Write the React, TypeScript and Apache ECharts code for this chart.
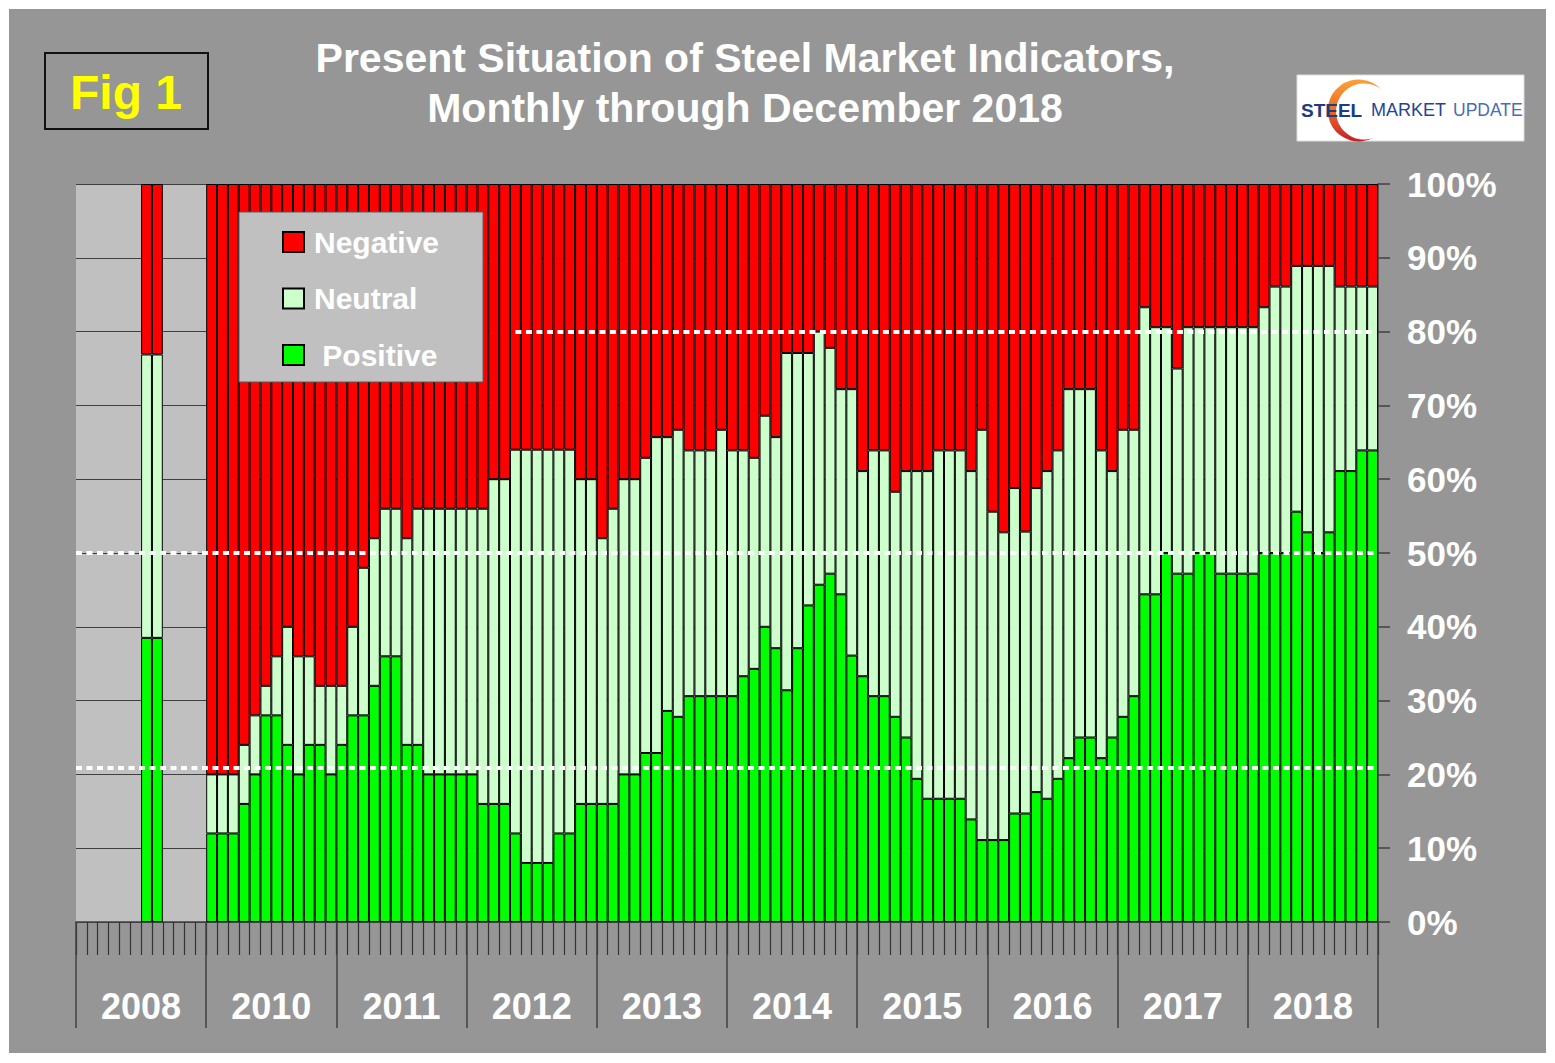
import React, { useEffect, useRef } from "react";
import * as echarts from "echarts";

// ---------- data ----------
const years = ["2008", "2010", "2011", "2012", "2013", "2014", "2015", "2016", "2017", "2018"];
const monthCodes = ["01", "02", "03", "04", "05", "06", "07", "08", "09", "10", "11", "12"];
const categories = years.flatMap((y) => monthCodes.map((m) => `${y}-${m}`));

const N = null;
// percentage of indicators, one value per month slot (2008 has only two filled slots)
const positive = [
  N, N, N, N, N, N, 38.5, 38.5, N, N, N, N,
  12, 12, 12, 16, 20, 28, 28, 24, 20, 24, 24, 20,
  24, 28, 28, 32, 36, 36, 24, 24, 20, 20, 20, 20,
  20, 16, 16, 16, 12, 8, 8, 8, 12, 12, 16, 16,
  16, 16, 20, 20, 22.9, 22.9, 28.6, 27.8, 30.6, 30.6, 30.6, 30.6,
  30.6, 33.3, 34.3, 40.0, 37.1, 31.4, 37.1, 42.9, 45.7, 47.2, 44.4, 36.1,
  33.3, 30.6, 30.6, 27.8, 25.0, 19.4, 16.7, 16.7, 16.7, 16.7, 13.9, 11.1,
  11.1, 11.1, 14.7, 14.7, 17.6, 16.7, 19.4, 22.2, 25.0, 25.0, 22.2, 25.0,
  27.8, 30.6, 44.4, 44.4, 50.0, 47.2, 47.2, 50.0, 50.0, 47.2, 47.2, 47.2,
  47.2, 50.0, 50.0, 50.0, 55.6, 52.8, 50.0, 52.8, 61.1, 61.1, 63.9, 63.9,
];
const neutral = [
  N, N, N, N, N, N, 38.4, 38.4, N, N, N, N,
  8, 8, 8, 8, 8, 4, 8, 16, 16, 12, 8, 12,
  8, 12, 20, 20, 20, 20, 28, 32, 36, 36, 36, 36,
  36, 40, 44, 44, 52, 56, 56, 56, 52, 52, 44, 44,
  36, 40, 40, 40, 40, 42.8, 37.1, 38.9, 33.3, 33.3, 33.3, 36.1,
  33.3, 30.6, 28.6, 28.6, 28.6, 45.7, 40.0, 34.2, 34.3, 30.6, 27.8, 36.1,
  27.8, 33.3, 33.3, 30.5, 36.1, 41.7, 44.4, 47.2, 47.2, 47.2, 47.2, 55.6,
  44.5, 41.7, 44.1, 38.2, 41.2, 44.4, 44.5, 50.0, 47.2, 47.2, 41.7, 36.1,
  38.9, 36.1, 38.9, 36.2, 30.6, 27.8, 33.4, 30.6, 30.6, 33.4, 33.4, 33.4,
  33.4, 33.3, 36.1, 36.1, 33.3, 36.1, 38.9, 36.1, 25.0, 25.0, 22.2, 22.2,
];
const negative = [
  N, N, N, N, N, N, 23.1, 23.1, N, N, N, N,
  80, 80, 80, 76, 72, 68, 64, 60, 64, 64, 68, 68,
  68, 60, 52, 48, 44, 44, 48, 44, 44, 44, 44, 44,
  44, 44, 40, 40, 36, 36, 36, 36, 36, 36, 40, 40,
  48, 44, 40, 40, 37.1, 34.3, 34.3, 33.3, 36.1, 36.1, 36.1, 33.3,
  36.1, 36.1, 37.1, 31.4, 34.3, 22.9, 22.9, 22.9, 20.0, 22.2, 27.8, 27.8,
  38.9, 36.1, 36.1, 41.7, 38.9, 38.9, 38.9, 36.1, 36.1, 36.1, 38.9, 33.3,
  44.4, 47.2, 41.2, 47.1, 41.2, 38.9, 36.1, 27.8, 27.8, 27.8, 36.1, 38.9,
  33.3, 33.3, 16.7, 19.4, 19.4, 25.0, 19.4, 19.4, 19.4, 19.4, 19.4, 19.4,
  19.4, 16.7, 13.9, 13.9, 11.1, 11.1, 11.1, 11.1, 13.9, 13.9, 13.9, 13.9,
];

// reference levels (dotted white lines)
const fullWidthLevels = [50, 20.9];
const partialLevel = 80;
const partialLevelFrom = "2012-05";
const partialLevelTo = "2018-12";

const titleText = "Present Situation of Steel Market Indicators,\nMonthly through December 2018";

// ---------- logo shape ----------
echarts.graphic.registerShape(
  "smuCrescent",
  echarts.graphic.extendPath("M 24 -19 A 31 31 0 1 0 15 29 A 28 28 0 1 1 24 -19 Z", {})
);

const FONT = '"Liberation Sans", Arial, Helvetica, sans-serif';

export default function App() {
  const ref = useRef<HTMLDivElement>(null);

  useEffect(() => {
    if (!ref.current) return;
    const chart = echarts.init(ref.current, undefined, { renderer: "svg" });

    const barBase = {
      type: "bar",
      stack: "total",
      barCategoryGap: "0%",
      barGap: "0%",
      emphasis: { disabled: true },
      silent: true,
    };
    const dotted = { color: "#ffffff", width: 4, type: [6, 4.5] as any };

    const option: any = {
      animation: false,
      backgroundColor: "#969696",
      textStyle: { fontFamily: FONT },
      grid: {
        left: 67,
        right: 168,
        top: 175,
        bottom: 131,
        show: true,
        backgroundColor: "#c0c0c0",
        borderWidth: 0,
      },
      legend: {
        orient: "vertical",
        left: 230,
        top: 203,
        data: ["Negative", "Neutral", "Positive"],
        selectedMode: false,
        icon: "rect",
        itemWidth: 21,
        itemHeight: 20,
        itemGap: 26.5,
        padding: [15, 44, 12, 43],
        backgroundColor: "#c0c0c0",
        borderColor: "#5a5a5a",
        borderWidth: 1,
        formatter: (name: string) => (name === "Positive" ? " Positive" : name),
        textStyle: {
          color: "#ffffff",
          fontSize: 30,
          fontWeight: "bold",
          fontFamily: FONT,
          lineHeight: 30,
          padding: [0, 0, 0, 5],
        },
      },
      xAxis: [
        {
          type: "category",
          data: categories,
          position: "bottom",
          boundaryGap: true,
          axisLine: { show: true, lineStyle: { color: "#404040", width: 1.5 } },
          axisTick: { show: true, interval: 0, length: 33, lineStyle: { color: "#333333", width: 1.2 } },
          axisLabel: { show: false },
          splitLine: { show: false },
        },
        {
          type: "category",
          data: years,
          position: "bottom",
          boundaryGap: true,
          axisLine: { show: false },
          axisTick: { show: true, interval: 0, length: 106, lineStyle: { color: "#404040", width: 1.5 } },
          axisLabel: {
            show: true,
            interval: 0,
            color: "#ffffff",
            fontSize: 36,
            fontWeight: "bold",
            fontFamily: FONT,
            margin: 66,
          },
          splitLine: { show: false },
        },
      ],
      yAxis: {
        type: "value",
        position: "right",
        min: 0,
        max: 100,
        interval: 10,
        axisLine: { show: true, lineStyle: { color: "#404040", width: 1.5 } },
        axisTick: { show: true, length: 12, lineStyle: { color: "#404040", width: 1.5 } },
        axisLabel: {
          formatter: "{value}%",
          color: "#ffffff",
          fontSize: 35,
          fontWeight: "bold",
          fontFamily: FONT,
          margin: 29,
        },
        splitLine: { show: true, lineStyle: { color: "#404040", width: 1 } },
      },
      series: [
        {
          ...barBase,
          name: "Positive",
          data: positive,
          itemStyle: { color: "#00ff00", borderColor: "#000000", borderWidth: 1 },
        },
        {
          ...barBase,
          name: "Neutral",
          data: neutral,
          itemStyle: { color: "#ccffcc", borderColor: "#000000", borderWidth: 1 },
        },
        {
          ...barBase,
          name: "Negative",
          data: negative,
          itemStyle: { color: "#ff0000", borderColor: "#000000", borderWidth: 1 },
          markLine: {
            silent: true,
            symbol: ["none", "none"],
            label: { show: false },
            lineStyle: dotted,
            emphasis: { disabled: true },
            data: [
              ...fullWidthLevels.map((v) => ({ yAxis: v })),
              [
                { coord: [partialLevelFrom, partialLevel] },
                { coord: [partialLevelTo, partialLevel] },
              ],
            ],
          },
        },
      ],
      graphic: [
        {
          type: "text",
          x: 736,
          y: 74,
          style: {
            text: titleText,
            fill: "#ffffff",
            font: `bold 41px ${FONT}`,
            lineHeight: 50,
            align: "center",
            verticalAlign: "middle",
          },
        },
        {
          type: "rect",
          shape: { x: 36, y: 44, width: 163, height: 76 },
          style: { fill: "none", stroke: "#111111", lineWidth: 2 },
        },
        {
          type: "text",
          x: 117,
          y: 83,
          style: {
            text: "Fig 1",
            fill: "#ffff00",
            font: `bold 48px ${FONT}`,
            align: "center",
            verticalAlign: "middle",
          },
        },
        {
          type: "rect",
          shape: { x: 1288, y: 66, width: 227, height: 66 },
          style: { fill: "#ffffff", stroke: "#dddddd", lineWidth: 1 },
        },
        {
          type: "smuCrescent",
          x: 1349,
          y: 100,
          style: {
            fill: {
              type: "linear",
              x: 0,
              y: 0,
              x2: 0,
              y2: 1,
              colorStops: [
                { offset: 0, color: "#f9a23a" },
                { offset: 0.5, color: "#ee6a22" },
                { offset: 1, color: "#c4202b" },
              ],
            },
          },
        },
        {
          type: "text",
          x: 1292,
          y: 101,
          style: {
            text: "STEEL",
            fill: "#1b3c80",
            font: `bold 19px ${FONT}`,
            align: "left",
            verticalAlign: "middle",
          },
        },
        {
          type: "text",
          x: 1362,
          y: 101,
          style: {
            text: "MARKET",
            fill: "#1f4596",
            font: `18px ${FONT}`,
            align: "left",
            verticalAlign: "middle",
          },
        },
        {
          type: "text",
          x: 1444,
          y: 101,
          style: {
            text: "UPDATE",
            fill: "#4a6db5",
            font: `17.5px ${FONT}`,
            align: "left",
            verticalAlign: "middle",
          },
        },
      ],
    };

    chart.setOption(option);
    return () => chart.dispose();
  }, []);

  return (
    <div
      style={{
        position: "absolute",
        left: 0,
        top: 0,
        width: 1555,
        height: 1063,
        background: "#ffffff",
      }}
    >
      <div
        ref={ref}
        style={{ position: "absolute", left: 9, top: 9, width: 1537, height: 1044 }}
      />
    </div>
  );
}
